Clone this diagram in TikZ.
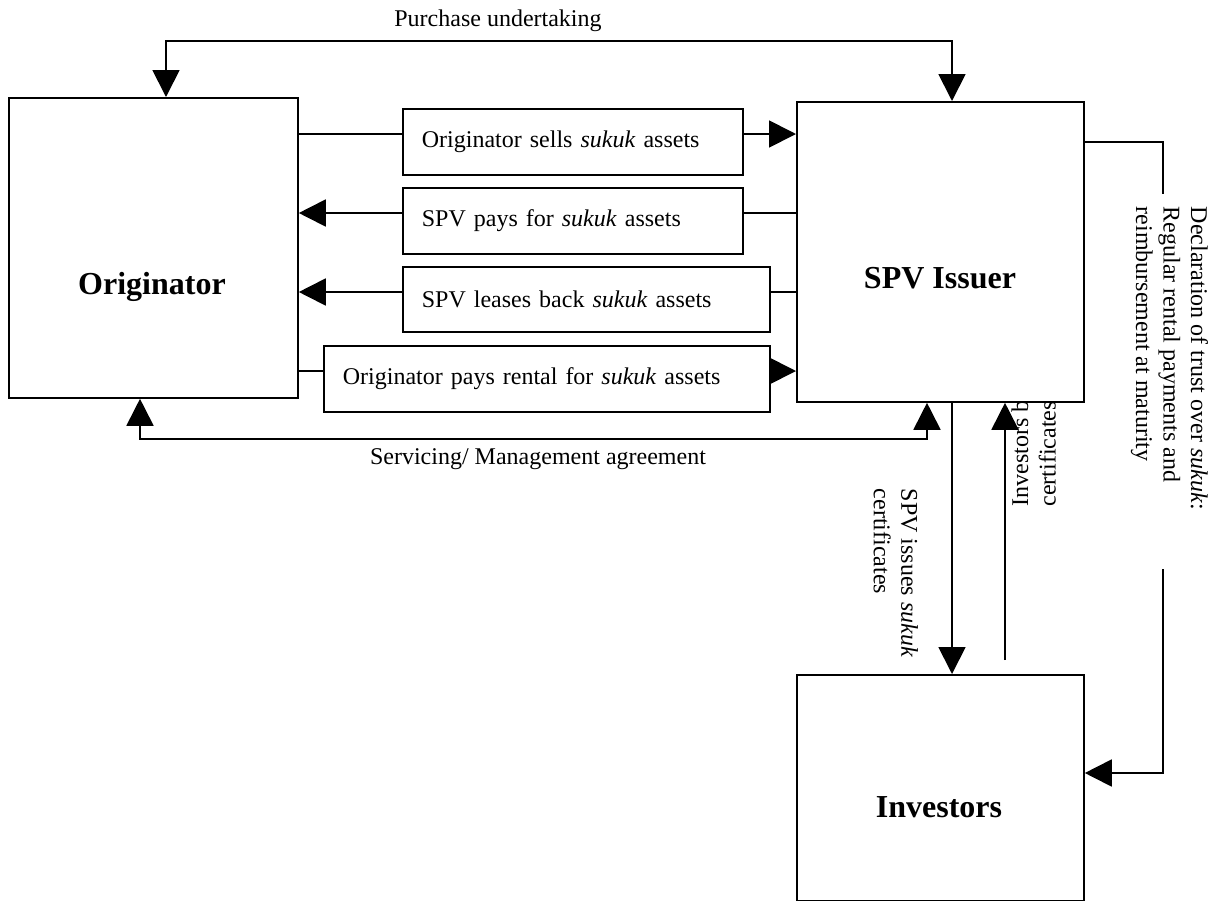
\documentclass[tikz,border=0pt]{standalone}
\usepackage{fontspec}
\setmainfont{Liberation Serif}
\usetikzlibrary{arrows.meta,backgrounds}

\begin{document}
\begin{tikzpicture}[x=0.5pt, y=-0.5pt, >={Triangle[length=13.5pt, width=13.5pt]}, line width=0.9pt]

% --- global settings ---
\tikzset{every node/.style={font=\fontsize{12}{13.8}\selectfont, inner sep=0pt}}
\tikzset{bigbox/.style={draw, fill=white, minimum width=144.5pt, minimum height=150pt, anchor=north west}}
\tikzset{msgbox/.style={draw, anchor=north west, inner xsep=9.5pt, minimum height=33pt, align=left}}
\tikzset{bold/.style={font=\fontsize{16}{19}\selectfont\bfseries}}

% --- parameters (line levels) ---
\def\ySells{134}
\def\yPays{213}
\def\yLease{292}
\def\yRent{371}

\useasboundingbox (0,0) rectangle (1223,901);

% --- label hidden under the SPV box ---
\begin{scope}[on background layer]
    \node[rotate=90, anchor=north west, align=left] (buys) at (1011,507) {Investors buy \emph{sukuk}\\certificates};
\end{scope}

% --- parties ---
\node[bigbox] (orig) at (8,97) {};
\node[bigbox, minimum width=143.5pt] (spv) at (796,101) {};
\node[bigbox, minimum width=143.5pt, minimum height=113pt] (inv) at (796,674) {};

\node[bold] (origtxt) at (152,287) {Originator};
\node[bold] (spvtxt) at (940,278) {SPV Issuer};
\node[bold] (invtxt) at (939,807) {Investors};

% --- transaction boxes ---
\node[msgbox, text width=151pt] (sells) at (402,108) {Originator sells \emph{sukuk} assets};
\node[msgbox, text width=151pt] (pays) at (402,187) {SPV pays for \emph{sukuk} assets};
\node[msgbox, text width=164.5pt, minimum height=32.5pt] (lease) at (402,266) {SPV leases back \emph{sukuk} assets};
\node[msgbox, text width=204pt] (rent) at (323,345) {Originator pays rental for \emph{sukuk} assets};

\draw (orig.east |- 0,\ySells) -- (sells.west |- 0,\ySells);
\draw[->] (sells.east |- 0,\ySells) -- (spv.west |- 0,\ySells);

\draw[->] (pays.west |- 0,\yPays) -- (orig.east |- 0,\yPays);
\draw (spv.west |- 0,\yPays) -- (pays.east |- 0,\yPays);

\draw[->] (lease.west |- 0,\yLease) -- (orig.east |- 0,\yLease);
\draw (spv.west |- 0,\yLease) -- (lease.east |- 0,\yLease);

\draw (orig.east |- 0,\yRent) -- (rent.west |- 0,\yRent);
\draw[->] (rent.east |- 0,\yRent) -- (spv.west |- 0,\yRent);

% --- purchase undertaking and servicing ---
\draw[<->] (orig.north -| 166,0) -- (166,41) -- (952,41) -- (spv.north -| 952,0);
\node (purchase) at (498,21) {Purchase undertaking};

\draw[<->] (orig.south -| 140,0) -- (140,439) -- (927,439) -- (spv.south -| 927,0);
\node (servicing) at (538,459) {Servicing/ Management agreement};

% --- certificates ---
\draw[->] (spv.south -| 952,0) -- (inv.north -| 952,0);
\node[rotate=-90, anchor=north west, align=left] (issues) at (919,488) {SPV issues \emph{sukuk}\\certificates};

\coordinate (buyend) at (1005,660);
\draw[->] (buyend) -- (spv.south -| buyend);

% --- declaration of trust ---
\coordinate (trusttop) at (1163,194);
\coordinate (trustbot) at (1163,569);
\draw (spv.east |- 0,142) -| (trusttop);
\draw[->] (trustbot) |- (inv.east |- 0,773);
\node[rotate=-90, anchor=north west, align=left] (trust) at (1209,206) {Declaration of trust over \emph{sukuk}:\\Regular rental payments and\\reimbursement at maturity};

\end{tikzpicture}
\end{document}
